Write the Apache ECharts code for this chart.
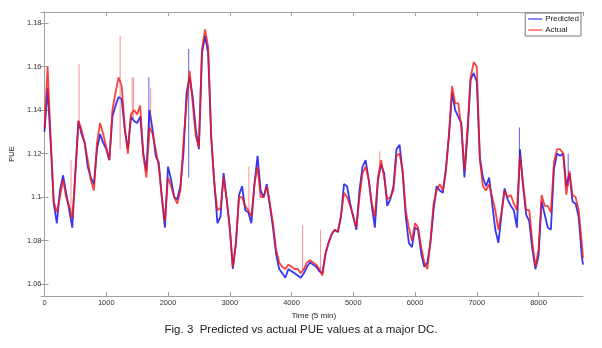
<!DOCTYPE html>
<html>
<head>
<meta charset="utf-8">
<script src="https://cdn.jsdelivr.net/npm/echarts@6/dist/echarts.min.js"></script>
<style>
  html, body { margin: 0; padding: 0; background: #fff; }
  #chart { width: 602px; height: 348px; }
</style>
</head>
<body>
<div id="chart"></div>
<script>
// time index (5 min steps)
var timeIdx = [0,50,100,150,200,250,300,350,400,450,500,550,600,650,700,750,800,850,900,950,
  1000,1050,1100,1150,1200,1250,1300,1350,1400,1450,1500,1550,1600,1650,1700,1750,1800,1850,1900,1950,
  2000,2050,2100,2150,2200,2250,2300,2350,2400,2450,2500,2550,2600,2650,2700,2750,2800,2850,2900,2950,
  3000,3050,3100,3150,3200,3250,3300,3350,3400,3450,3500,3550,3600,3650,3700,3750,3800,3850,3900,3950,
  4000,4050,4100,4150,4200,4250,4300,4350,4400,4450,4500,4550,4600,4650,4700,4750,4800,4850,4900,4950,
  5000,5050,5100,5150,5200,5250,5300,5350,5400,5450,5500,5550,5600,5650,5700,5750,5800,5850,5900,5950,
  6000,6050,6100,6150,6200,6250,6300,6350,6400,6450,6500,6550,6600,6650,6700,6750,6800,6850,6900,6950,
  7000,7050,7100,7150,7200,7250,7300,7350,7400,7450,7500,7550,7600,7650,7700,7750,7800,7850,7900,7950,
  8000,8050,8100,8150,8200,8250,8300,8350,8400,8450,8500,8550,8600,8650,8700,8720];

var predicted = [1.130,1.150,1.125,1.097,1.088,1.103,1.110,1.102,1.094,1.086,1.112,1.135,1.129,1.125,1.114,1.109,1.106,1.122,1.129,1.125,
  1.122,1.117,1.137,1.142,1.146,1.145,1.131,1.122,1.137,1.135,1.134,1.137,1.120,1.112,1.140,1.131,1.119,1.116,1.100,1.086,
  1.114,1.108,1.100,1.099,1.105,1.120,1.148,1.155,1.146,1.131,1.122,1.166,1.174,1.166,1.127,1.107,1.088,1.091,1.111,1.099,
  1.086,1.067,1.079,1.101,1.105,1.094,1.093,1.088,1.106,1.119,1.103,1.100,1.106,1.096,1.086,1.074,1.067,1.065,1.063,1.067,
  1.066,1.065,1.064,1.063,1.065,1.068,1.070,1.069,1.068,1.066,1.065,1.074,1.079,1.083,1.085,1.084,1.091,1.106,1.105,1.097,
  1.091,1.085,1.103,1.114,1.117,1.108,1.096,1.086,1.108,1.115,1.111,1.096,1.099,1.105,1.122,1.124,1.111,1.091,1.079,1.077,
  1.086,1.085,1.074,1.068,1.070,1.079,1.094,1.105,1.103,1.102,1.113,1.129,1.148,1.140,1.137,1.134,1.109,1.129,1.154,1.157,
  1.153,1.118,1.109,1.105,1.109,1.097,1.085,1.079,1.092,1.104,1.099,1.096,1.094,1.086,1.122,1.105,1.092,1.089,1.076,1.067,
  1.073,1.098,1.092,1.086,1.085,1.113,1.120,1.119,1.120,1.105,1.111,1.098,1.097,1.091,1.073,1.069];

var actual = [1.132,1.160,1.127,1.098,1.093,1.100,1.108,1.100,1.096,1.090,1.110,1.135,1.131,1.125,1.117,1.108,1.103,1.125,1.134,1.129,
  1.123,1.117,1.140,1.148,1.155,1.151,1.132,1.120,1.138,1.140,1.138,1.142,1.119,1.109,1.132,1.129,1.122,1.114,1.100,1.089,
  1.109,1.105,1.100,1.097,1.103,1.125,1.143,1.158,1.143,1.128,1.123,1.168,1.177,1.169,1.128,1.106,1.094,1.095,1.109,1.099,
  1.086,1.068,1.079,1.100,1.100,1.096,1.094,1.091,1.106,1.114,1.100,1.100,1.105,1.097,1.088,1.076,1.070,1.068,1.067,1.069,
  1.068,1.067,1.067,1.065,1.067,1.070,1.071,1.070,1.069,1.067,1.064,1.074,1.079,1.083,1.085,1.084,1.091,1.102,1.100,1.096,
  1.091,1.086,1.100,1.111,1.114,1.108,1.097,1.091,1.109,1.117,1.109,1.099,1.100,1.103,1.119,1.120,1.112,1.094,1.086,1.080,
  1.088,1.086,1.077,1.070,1.067,1.080,1.097,1.103,1.106,1.103,1.112,1.128,1.151,1.143,1.143,1.132,1.112,1.132,1.155,1.162,
  1.160,1.117,1.105,1.103,1.106,1.100,1.094,1.085,1.093,1.103,1.100,1.101,1.097,1.094,1.119,1.106,1.094,1.094,1.079,1.068,
  1.076,1.101,1.096,1.096,1.093,1.116,1.122,1.122,1.120,1.101,1.112,1.101,1.100,1.094,1.079,1.072];

// short spikes: position, bottom, top
var actSpikeX   = [430, 560, 1225, 1420, 1440, 1720, 3310, 4180, 4470, 5430];
var actSpikeLow = [1.092, 1.135, 1.122, 1.137, 1.136, 1.130, 1.094, 1.066, 1.066, 1.112];
var actSpikeTop = [1.117, 1.161, 1.174, 1.155, 1.155, 1.150, 1.114, 1.087, 1.085, 1.121];
var predSpikeX   = [1690, 2335, 7690, 8480];
var predSpikeLow = [1.125, 1.109, 1.115, 1.105];
var predSpikeTop = [1.155, 1.168, 1.132, 1.120];

var xTicks = [0, 1000, 2000, 3000, 4000, 5000, 6000, 7000, 8000];
var yTicks = [1.06, 1.08, 1.1, 1.12, 1.14, 1.16, 1.18];

function pairs(xs, ys) {
  var out = [];
  for (var i = 0; i < xs.length; i++) out.push([xs[i], ys[i]]);
  return out;
}
function spikes(xs, lo, hi) {
  var out = [];
  for (var i = 0; i < xs.length; i++) {
    out.push([xs[i], lo[i]]);
    out.push([xs[i], hi[i]]);
    out.push([xs[i], '-']);
  }
  return out;
}

var BLUE = 'rgba(20,20,240,0.85)';
var RED = 'rgba(245,20,20,0.8)';
var AXIS = '#a0a0a0';
var FONT = 'Liberation Sans, Arial, sans-serif';

var baseX = {
  type: 'value', min: 0, max: 8720, interval: 1000,
  axisLine: { lineStyle: { color: AXIS, width: 1 } },
  axisTick: { inside: true, length: 4, lineStyle: { color: AXIS } },
  splitLine: { show: false }
};
var baseY = {
  type: 'value', min: 1.0546, max: 1.185, splitNumber: 6,
  axisLine: { lineStyle: { color: AXIS, width: 1 } },
  axisTick: { inside: true, length: 4, lineStyle: { color: AXIS } },
  splitLine: { show: false }
};

var chart = echarts.init(document.getElementById('chart'), null, { renderer: 'canvas' });
chart.setOption({
  animation: false,
  backgroundColor: '#fff',
  textStyle: { fontFamily: FONT },
  title: {
    text: 'Fig. 3  Predicted vs actual PUE values at a major DC.',
    left: 'center', top: 319,
    textStyle: { fontSize: 11.5, fontWeight: 'normal', color: '#222', fontFamily: FONT }
  },
  grid: { left: 43, right: 19, top: 12, bottom: 52 },
  legend: {
    orient: 'vertical', right: 21, top: 13,
    data: ['Predicted', 'Actual'],
    icon: 'rect', itemWidth: 14, itemHeight: 1.2, itemGap: 3,
    padding: [2, 2, 2, 3],
    borderColor: '#777', borderWidth: 1, borderRadius: 0,
    backgroundColor: '#fff',
    textStyle: { fontSize: 8, color: '#222', padding: [0, 0, 0, -2] }
  },
  xAxis: [
    Object.assign({}, baseX, {
      position: 'bottom',
      name: 'Time (5 min)', nameLocation: 'middle', nameGap: 15,
      nameTextStyle: { fontSize: 8, color: '#222' },
      axisLabel: { fontSize: 7.5, color: '#333', margin: 3, showMaxLabel: false,
        formatter: function (v) { return xTicks.indexOf(v) >= 0 ? String(v) : ''; } }
    }),
    Object.assign({}, baseX, { position: 'top', axisLabel: { show: false } })
  ],
  yAxis: [
    Object.assign({}, baseY, {
      position: 'left',
      name: 'PUE', nameLocation: 'middle', nameGap: 22, nameRotate: 90,
      nameTextStyle: { fontSize: 7.5, color: '#222' },
      axisLabel: { fontSize: 7.5, color: '#333', margin: 3, showMinLabel: false, showMaxLabel: false,
        formatter: function (v) { return String(+v.toFixed(2)); } }
    }),
    Object.assign({}, baseY, { position: 'right', axisLabel: { show: false } })
  ],
  series: [
    {
      name: 'Predicted', type: 'line', showSymbol: false,
      data: pairs(timeIdx, predicted),
      itemStyle: { color: BLUE },
      lineStyle: { color: BLUE, width: 1.8 }
    },
    {
      name: 'Predicted', type: 'line', showSymbol: false, connectNulls: false,
      data: spikes(predSpikeX, predSpikeLow, predSpikeTop),
      itemStyle: { color: BLUE },
      lineStyle: { color: BLUE, width: 0.8 }
    },
    {
      name: 'Actual', type: 'line', showSymbol: false,
      data: pairs(timeIdx, actual),
      itemStyle: { color: RED },
      lineStyle: { color: RED, width: 1.8 }
    },
    {
      name: 'Actual', type: 'line', showSymbol: false, connectNulls: false,
      data: spikes(actSpikeX, actSpikeLow, actSpikeTop),
      itemStyle: { color: RED },
      lineStyle: { color: 'rgba(245,60,60,0.7)', width: 0.8 }
    }
  ]
});
</script>
</body>
</html>
